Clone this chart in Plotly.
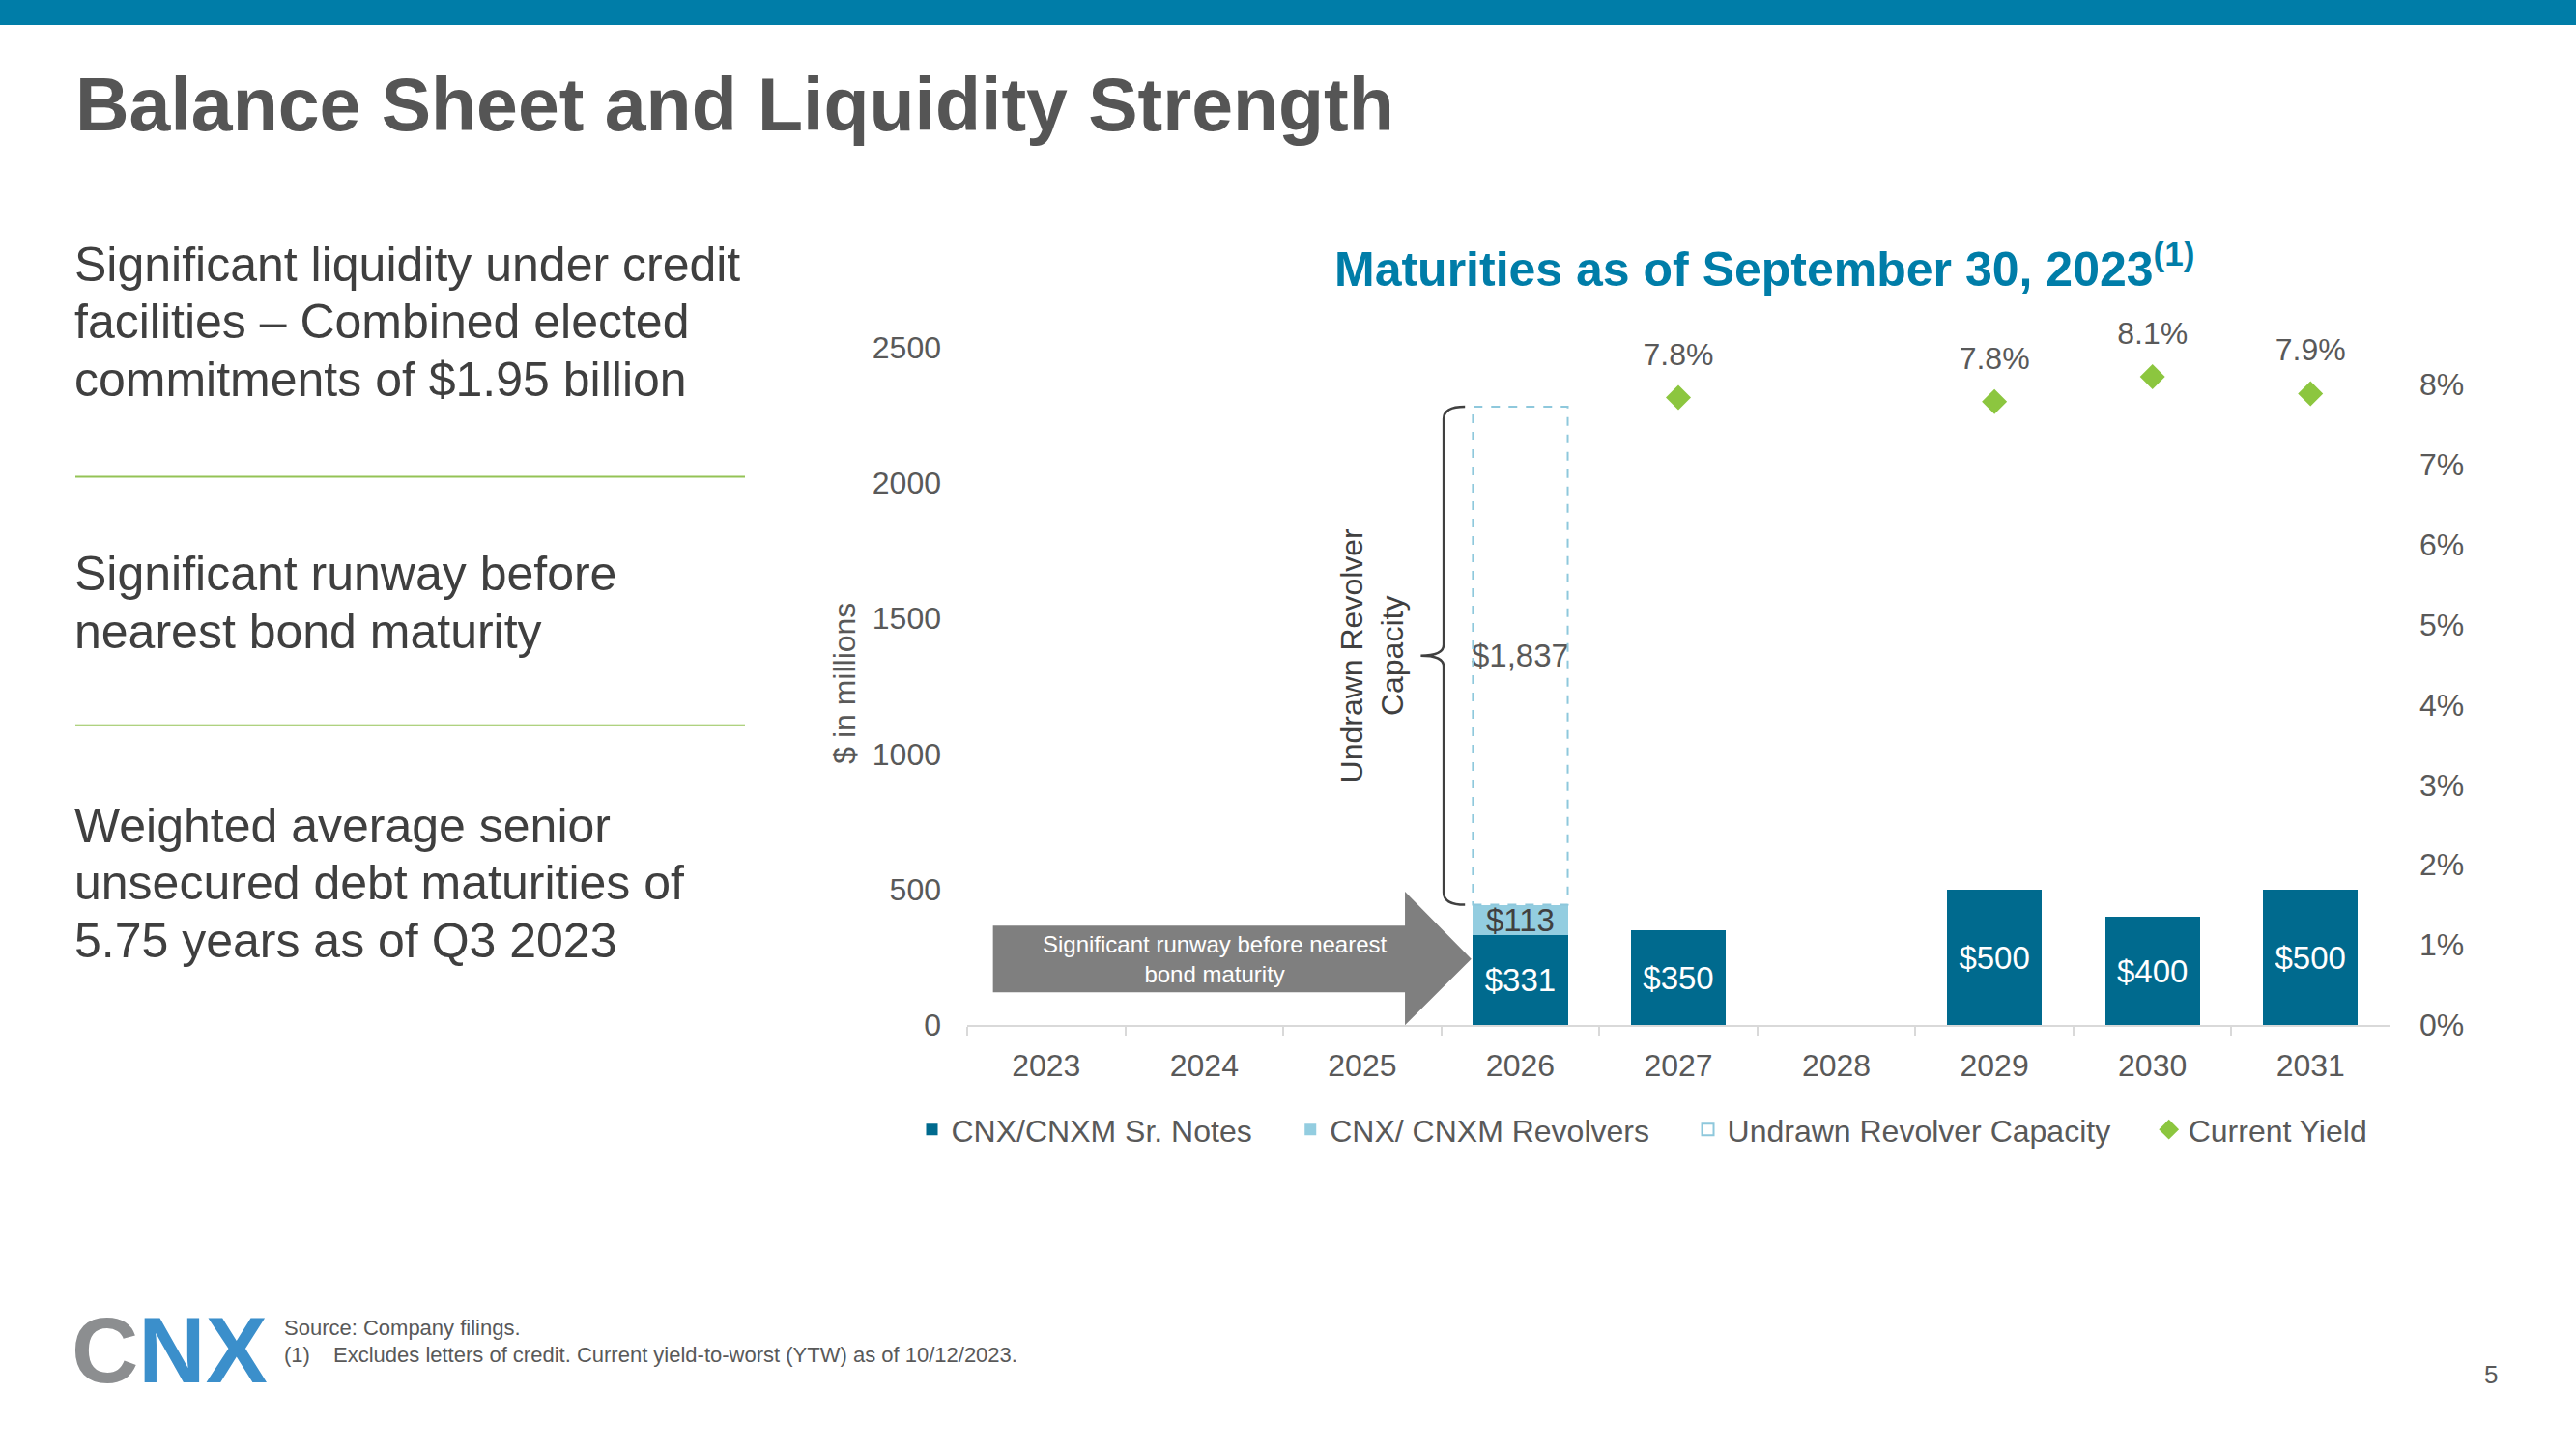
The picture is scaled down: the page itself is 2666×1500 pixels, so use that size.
import plotly.graph_objects as go

W, H = 2666, 1500
K = 1.0133  # the capture comes out slightly squashed vertically; compensate

years = ["2023", "2024", "2025", "2026", "2027", "2028", "2029", "2030", "2031"]
sr_notes = [None, None, None, 331, 350, None, 500, 400, 500]
revolvers = [None, None, None, 113, None, None, None, None, None]
undrawn = [None, None, None, 1837, None, None, None, None, None]
yield_years = ["2027", "2029", "2030", "2031"]
current_yield = [7.83, 7.78, 8.09, 7.88]

left_ticks = [0, 500, 1000, 1500, 2000, 2500]

DARK = "#006A8E"
LIGHT = "#93CDE0"
DASH = "#8EC8DC"
GREEN = "#8CC63F"
GRAY = "#595959"
FONT = "Liberation Sans, Arial, sans-serif"
PAD = "\u00a0" * 4  # widen legend entries like the original


def px(x):
    return x / W


def py(y):
    return 1 - y * K / H


fig = go.Figure()

fig.add_trace(go.Bar(
    x=years, y=sr_notes, name="CNX/CNXM Sr. Notes" + PAD,
    marker=dict(color=DARK, line=dict(width=0)),
    texttemplate="$%{y:,.0f}", textposition="inside", insidetextanchor="middle",
    textangle=0, constraintext="none",
    textfont=dict(color="white", size=33, family=FONT),
))
fig.add_trace(go.Bar(
    x=years, y=revolvers, name="CNX/ CNXM Revolvers" + PAD,
    marker=dict(color=LIGHT, line=dict(width=0)),
    texttemplate="$%{y:,.0f}", textposition="inside", insidetextanchor="middle",
    textangle=0, constraintext="none",
    textfont=dict(color="#404040", size=33, family=FONT),
))
fig.add_trace(go.Bar(
    x=years, y=undrawn, showlegend=False,
    marker=dict(color="rgba(0,0,0,0)", line=dict(width=0)),
    texttemplate="$%{y:,.0f}", textposition="inside", insidetextanchor="middle",
    textangle=0, constraintext="none",
    textfont=dict(color=GRAY, size=33, family=FONT),
))
# legend entry for the dashed undrawn box
fig.add_trace(go.Bar(
    x=[None], y=[None], name="Undrawn Revolver Capacity" + PAD,
    marker=dict(color="white", line=dict(color=DASH, width=2)),
))
fig.add_trace(go.Scatter(
    x=yield_years, y=current_yield, name="Current Yield", yaxis="y2",
    mode="markers", marker=dict(symbol="diamond", size=20, color=GREEN),
))
fig.add_trace(go.Scatter(
    x=yield_years, y=current_yield, yaxis="y2", showlegend=False,
    mode="markers+text", marker=dict(size=40, opacity=0), cliponaxis=False,
    text=[f"{v:.1f}%" for v in current_yield], textposition="top center",
    textfont=dict(color=GRAY, size=32, family=FONT), hoverinfo="skip",
))

# dashed outline around undrawn capacity
i26 = years.index("2026")
base = sr_notes[i26] + revolvers[i26]
top = base + undrawn[i26]
mid = base + undrawn[i26] / 2
shapes = [
    dict(type="rect", xref="x", yref="y", x0=i26 - 0.3, x1=i26 + 0.3, y0=base, y1=top,
         line=dict(color=DASH, width=2, dash="dash"), fillcolor="rgba(0,0,0,0)"),
]

# curly brace
bx, hx, cx = i26 - 0.485, i26 - 0.35, i26 - 0.63
brace = (
    f"M {hx},{top} Q {bx},{top} {bx},{top - 45} L {bx},{mid + 40} "
    f"Q {bx},{mid} {cx},{mid} Q {bx},{mid} {bx},{mid - 40} "
    f"L {bx},{base + 45} Q {bx},{base} {hx},{base}"
)
shapes.append(dict(type="path", xref="x", yref="y", path=brace,
                   line=dict(color="#404040", width=2.5)))

# block arrow
ax0, ahb, atip = -0.337, 2.27, 2.69
s0, s1, hh = 121, 367, 492
sm = (s0 + s1) / 2
arrow = (
    f"M {ax0},{s0} L {ahb},{s0} L {ahb},0 L {atip},{sm} L {ahb},{hh} "
    f"L {ahb},{s1} L {ax0},{s1} Z"
)
shapes.append(dict(type="path", xref="x", yref="y", path=arrow,
                   fillcolor="#7F7F7F", line=dict(width=0), layer="below"))

# header band and separators
shapes.append(dict(type="rect", xref="paper", yref="paper", x0=0, x1=1, y0=py(26), y1=1,
                   fillcolor="#007DA8", line=dict(width=0)))
for yy in (493, 750):
    shapes.append(dict(type="line", xref="paper", yref="paper", x0=px(78), x1=px(771),
                       y0=py(yy), y1=py(yy), line=dict(color="#94C356", width=2)))

annotations = []


def note(text, x, y, size, color=GRAY, anchor="left", **kw):
    annotations.append(dict(
        text=text, xref="paper", yref="paper", x=px(x), y=py(y),
        xanchor=anchor, yanchor="middle", showarrow=False,
        font=dict(size=size, color=color, family=FONT), **kw))


note("<b>Balance Sheet and Liquidity Strength</b>", 76, 108, 77, color="#555555")

left_lines = [
    ("Significant liquidity under credit", 274),
    ("facilities \u2013 Combined elected", 333),
    ("commitments of $1.95 billion", 393),
    ("Significant runway before", 593),
    ("nearest bond maturity", 653),
    ("Weighted average senior", 854),
    ("unsecured debt maturities of", 913),
    ("5.75 years as of Q3 2023", 973),
]
for txt, yy in left_lines:
    note(txt, 75, yy, 50, color="#3F3F3F")

note("<b>Maturities as of September 30, 2023<sup>(1)</sup></b>", 1826, 275, 50,
     color="#007DA8", anchor="center")
note("$ in millions", 874, 707, 32, anchor="center", textangle=-90)

note("Source: Company filings.", 292, 1373, 22)
note("(1)", 292, 1401, 22)
note("Excludes letters of credit. Current yield-to-worst (YTW) as of 10/12/2023.", 343, 1401, 22)
note("5", 2578, 1421, 26, anchor="center")
note("<b><span style='color:#8C8E90'>C</span>NX</b>", 72, 1396, 96, color="#3B8FCB")

# chart annotations in data space
annotations.append(dict(
    text="Undrawn Revolver<br>Capacity", xref="x", yref="y", x=i26 - 0.94, y=mid,
    textangle=-90, showarrow=False, font=dict(size=32, color="#404040", family=FONT)))
annotations.append(dict(
    text="Significant runway before nearest<br>bond maturity", xref="x", yref="y",
    x=1.07, y=sm, showarrow=False, font=dict(size=24, color="white", family=FONT)))

fig.update_layout(
    width=W, height=H, autosize=False,
    margin=dict(l=0, r=0, t=0, b=0),
    paper_bgcolor="white", plot_bgcolor="white",
    barmode="stack", bargap=0.4,
    font=dict(family=FONT, color=GRAY),
    shapes=shapes, annotations=annotations,
    xaxis=dict(
        type="category", domain=[px(1001), px(2473)], range=[-0.5, 8.5],
        showline=True, linecolor="#D9D9D9", linewidth=2,
        ticks="outside", tickson="boundaries", ticklen=9, tickcolor="#D9D9D9", tickwidth=2,
        tickfont=dict(size=32, color=GRAY), showgrid=False, zeroline=False,
        ticklabelstandoff=12,
    ),
    yaxis=dict(
        domain=[py(1060), py(340)], range=[0, 2568], tickvals=left_ticks,
        showgrid=False, zeroline=False, showline=False,
        tickfont=dict(size=32, color=GRAY), ticklabelstandoff=26,
    ),
    yaxis2=dict(
        overlaying="y", side="right", anchor="x", range=[0, 8.688], dtick=1,
        ticksuffix="%", showgrid=False, zeroline=False, showline=False,
        tickfont=dict(size=32, color=GRAY), ticklabelstandoff=30,
    ),
    legend=dict(
        orientation="h", x=px(1700), xanchor="center", y=py(1168), yanchor="middle",
        font=dict(size=32, color=GRAY), bgcolor="rgba(0,0,0,0)", itemwidth=30,
        traceorder="normal",
    ),
    showlegend=True,
)

page_fix = (
    "var s='margin:0;padding:0;overflow:hidden;height:1500px;width:2666px;';"
    "document.documentElement.style.cssText+=s;document.body.style.cssText+=s;"
)
fig.write_html(
    "out.html",
    config={"responsive": False, "displayModeBar": False},
    post_script=page_fix,
)
